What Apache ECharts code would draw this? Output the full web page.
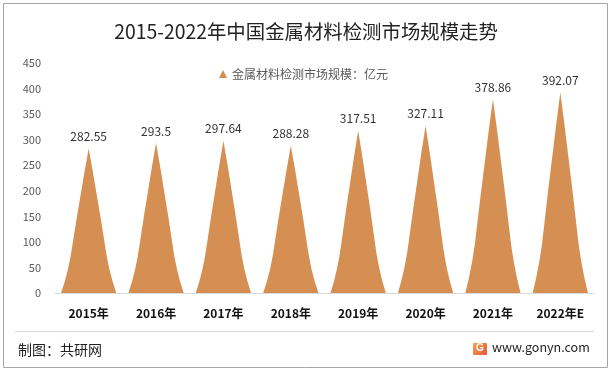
<!DOCTYPE html>
<html><head><meta charset="utf-8">
<script src="https://cdn.jsdelivr.net/npm/echarts@6/dist/echarts.min.js"></script>
<style>html,body{margin:0;padding:0;background:#fff}#c{width:612px;height:372px}</style>
</head><body><div id="c"></div>
<script>
const categories = ['2015年','2016年','2017年','2018年','2019年','2020年','2021年','2022年E'];
const values = [282.55, 293.5, 297.64, 288.28, 317.51, 327.11, 378.86, 392.07];
const yTicks = [0, 50, 100, 150, 200, 250, 300, 350, 400, 450];
const seriesName = '金属材料检测市场规模：亿元';
const titleText = '2015-2022年中国金属材料检测市场规模走势';

const chart = echarts.init(document.getElementById('c'), null, {renderer:'canvas'});
const font = '"Microsoft YaHei","Noto Sans CJK SC",sans-serif';
chart.setOption({
  animation:false,
  backgroundColor:'#fff',
  title:{text:titleText,left:'center',top:17,textStyle:{fontFamily:font,fontSize:19.4,fontWeight:'normal',color:'#222'}},
  legend:{top:63,left:214,itemWidth:8,itemHeight:8,icon:'triangle',data:[seriesName],
    textStyle:{fontFamily:font,fontSize:12,color:'#595959'}},
  grid:{left:55,right:18,top:63,bottom:79},
  xAxis:{type:'category',data:categories,
    axisLine:{lineStyle:{color:'#d9d9d9'}},axisTick:{show:false},
    axisLabel:{fontFamily:font,fontSize:12,fontWeight:'bold',color:'#111',margin:14}},
  yAxis:{type:'value',min:yTicks[0],max:yTicks[yTicks.length-1],interval:50,
    axisLine:{show:false},axisTick:{show:false},splitLine:{show:false},
    axisLabel:{fontFamily:font,fontSize:11,color:'#595959',margin:14}},
  series:[{name:seriesName,type:'pictorialBar',data:values,
    barCategoryGap:'0%',
    symbol:'path://M5,0 L5.8,1.7 L6.5,3.3 L7.25,5 L7.95,6.7 Q8.6,8.5 10,10 L0,10 Q1.4,8.5 2.05,6.7 L2.75,5 L3.5,3.3 L4.2,1.7 Z',
    symbolSize:['82%','100%'],
    itemStyle:{color:'#D58F53'},
    label:{show:true,position:'top',distance:6,fontFamily:font,fontSize:12,color:'#333'}}],
  graphic:[
    {type:'rect',shape:{x:3.5,y:3.5,width:604,height:364},style:{fill:'none',stroke:'#a6a6a6',lineWidth:1},z:-1},
    {type:'line',shape:{x1:15,y1:331.5,x2:594,y2:331.5},style:{stroke:'#d9d9d9',lineWidth:1}},
    {type:'text',left:18,top:343,style:{text:'制图：共研网',font:'14px '+font,fill:'#222'}},
    {type:'rect',shape:{x:473,y:343,width:14,height:12,r:1},style:{fill:new echarts.graphic.LinearGradient(0,0,1,1,[{offset:0,color:'#F7A24B'},{offset:1,color:'#E8573C'}])}},
    {type:'text',left:476,top:343,style:{text:'G',font:'bold 10px sans-serif',fill:'#fff'}},
    {type:'text',left:492,top:341,style:{text:'www.gonyn.com',font:'12.5px '+font,fill:'#222'}}
  ]
});
</script></body></html>
